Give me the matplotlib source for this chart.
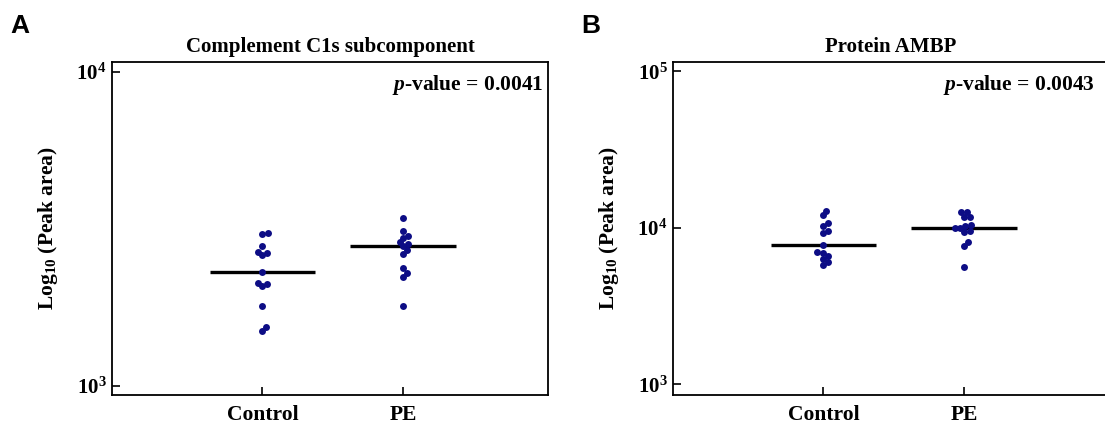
import numpy as np
import matplotlib
matplotlib.use('Agg')
import matplotlib.pyplot as plt
from matplotlib.ticker import LogLocator, FuncFormatter, NullLocator

# data (peak areas)
groups = ['Control', 'PE']

c1s_control = [3076, 3048, 2792, 2671, 2650, 2612, 2301, 2133, 2113, 2080, 1794, 1545, 1500]
c1s_pe = [3420, 3124, 3004, 2960, 2875, 2843, 2792, 2710, 2632, 2370, 2295, 2228, 1794]

ambp_control = [12900, 12107, 10720, 10340, 9610, 9290, 7790, 6990, 6920, 6650, 6340, 6090, 5810]
ambp_pe = [12600, 12550, 11700, 11700, 10450, 10300, 10000, 9950, 9610, 9430, 8140, 7710, 5610]

titles = ['Complement C1s subcomponent', 'Protein AMBP']
pvalues = ['0.0041', '0.0043']
letters = ['A', 'B']
ylims = [(936, 10764), (855, 115000)]

plt.rcParams['font.family'] = 'Liberation Serif'
plt.rcParams['font.weight'] = 'bold'
plt.rcParams['mathtext.fontset'] = 'custom'
plt.rcParams['mathtext.rm'] = 'Liberation Serif:bold'
plt.rcParams['mathtext.bf'] = 'Liberation Serif:bold'
plt.rcParams['mathtext.it'] = 'Liberation Serif:italic:bold'

W, H = 1105, 423
fig = plt.figure(figsize=(W / 100, H / 100), dpi=100)

dot_color = '#0d0d85'
dot_px = 7


def swarm_x(ax, xc, values):
    # simple beeswarm: push dots sideways only when they sit on each other
    pts = ax.transData.transform(np.column_stack([np.full(len(values), xc), values]))
    ys = pts[:, 1]
    unit_px = ax.transData.transform((1, 1))[0] - ax.transData.transform((0, 1))[0]
    order = np.argsort(ys)
    placed = []
    offs = np.zeros(len(values))
    cands = [0]
    for k in np.arange(0.5, 20, 0.5):
        cands += [k, -k]
    for i in order:
        for dx in cands:
            ok = True
            for (px, py) in placed:
                if np.hypot(dx - px, ys[i] - py) < dot_px * 0.75:
                    ok = False
                    break
            if ok:
                break
        placed.append((dx, ys[i]))
        offs[i] = dx
    return xc + offs / unit_px


panel_data = [(c1s_control, c1s_pe), (ambp_control, ambp_pe)]
lefts = [112, 673]
p_x = [0.99, 0.967]
letter_x = [10, 581]

for n in range(2):
    ax = fig.add_axes([lefts[n] / W, (H - 395) / H, 436 / W, 333 / H])
    ax.set_yscale('log')
    ax.set_xlim(-0.07, 3.03)
    ax.set_ylim(*ylims[n])

    for j, vals in enumerate(panel_data[n]):
        xc = j + 1
        xs = swarm_x(ax, xc, vals)
        ax.scatter(xs, vals, s=25, color=dot_color, zorder=3, linewidths=0)
        med = np.median(vals)
        ax.plot([xc - 0.375, xc + 0.375], [med, med], color='black', lw=2.4, zorder=2,
                solid_capstyle='butt')

    ax.set_xticks([1, 2])
    ax.set_xticklabels(groups, fontsize=15.5, fontweight='bold')
    ax.yaxis.set_major_locator(LogLocator(base=10, numticks=10))
    ax.yaxis.set_minor_locator(NullLocator())
    ax.yaxis.set_major_formatter(FuncFormatter(lambda v, p: r'$10^{%d}$' % round(np.log10(v))))
    ax.tick_params(axis='both', direction='in', length=6, width=1.2, colors='black')
    ax.tick_params(axis='x', pad=7)
    ax.tick_params(axis='y', pad=4, labelsize=15)
    for s in ax.spines.values():
        s.set_linewidth(1.3)

    ax.set_ylabel(r'Log$_{10}$ (Peak area)', fontsize=15.5, fontweight='bold', labelpad=12)
    ax.set_title(titles[n], fontsize=15, fontweight='bold', pad=7)
    ax.text(p_x[n], 0.93, r'$p$-value = ' + pvalues[n], transform=ax.transAxes,
            ha='right', va='center', fontsize=15.5, fontweight='bold')

    fig.text(letter_x[n] / W, 1 - 33 / H, letters[n], fontsize=19, fontweight='bold',
             family='Liberation Sans', va='baseline')

fig.savefig('out.png', dpi=100)
